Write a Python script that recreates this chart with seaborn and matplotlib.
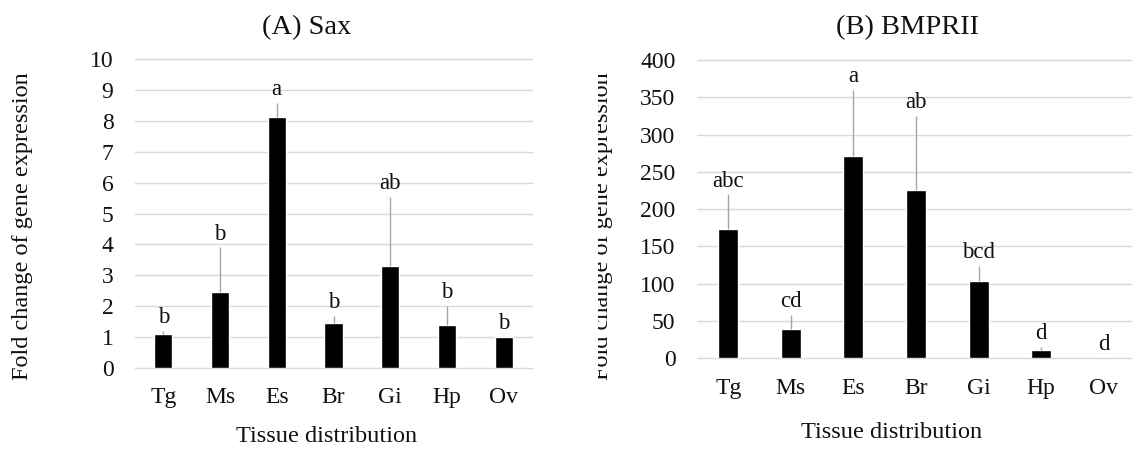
import numpy as np
import pandas as pd
import matplotlib
matplotlib.use("Agg")
import matplotlib.pyplot as plt
import seaborn as sns
from matplotlib.transforms import Bbox, TransformedBbox

# Tissues sampled
tissues = ["Tg", "Ms", "Es", "Br", "Gi", "Hp", "Ov"]

# (A) Sax: mean fold change, SD and significance groups
sax_mean = [1.08, 2.44, 8.14, 1.44, 3.31, 1.39, 1.00]
sax_sd = [0.11, 1.46, 0.45, 0.24, 2.24, 0.61, 0.0]
sax_groups = ["b", "b", "a", "b", "ab", "b", "b"]
sax_ticks = list(range(0, 11, 1))

# (B) BMPRII: mean fold change, SD and significance groups
bmpr_mean = [173, 39, 271, 226, 104, 10.5, 1.0]
bmpr_sd = [47, 19, 89, 99, 20, 4.5, 0.0]
bmpr_groups = ["abc", "cd", "a", "ab", "bcd", "d", "d"]
bmpr_ticks = list(range(0, 401, 50))

sns.set_theme(style="white")
plt.rcParams["font.family"] = ["Liberation Serif", "DejaVu Serif"]
plt.rcParams["text.color"] = "#111111"

W, H = 1132, 450
fig = plt.figure(figsize=(W / 100, H / 100), dpi=100)


def fx(px):
    return px / W


def fy(py):
    return 1 - py / H


def panel(rect, mean, sd, groups, ticks, x_right):
    ax = fig.add_axes(rect)
    df = pd.DataFrame({"tissue": tissues, "value": mean})
    sns.barplot(data=df, x="tissue", y="value", order=tissues, color="black",
                saturation=1, width=0.32, errorbar=None, ax=ax, zorder=2)
    x = np.arange(len(tissues))
    ax.errorbar(x, mean, yerr=[np.zeros(len(sd)), sd], fmt="none",
                ecolor="#a6a6a6", elinewidth=1.0, capsize=0, zorder=3)
    for i, (m, s, g) in enumerate(zip(mean, sd, groups)):
        ax.annotate(g, xy=(i, m + s), xytext=(0, 5.5), textcoords="offset points",
                    ha="center", va="baseline", fontsize=16.5, color="#111111")
    ax.set_ylim(ticks[0], ticks[-1])
    ax.set_yticks(ticks)
    ax.set_xlim(-0.5, x_right)
    ax.set_xlabel("")
    ax.set_ylabel("")
    for sp in ax.spines.values():
        sp.set_visible(False)
    ax.set_axisbelow(True)
    ax.yaxis.grid(True, color="#d9d9d9", linewidth=1.0)
    ax.xaxis.grid(False)
    ax.tick_params(axis="y", length=0, pad=15.5, labelsize=17, labelcolor="#111111")
    ax.tick_params(axis="x", length=0, pad=14, labelsize=17, labelcolor="#111111")
    for gl in ax.get_ygridlines():
        gl.set_clip_on(False)
    return ax


# Panel A: plot area 135..532 px wide, gridlines 59..368 px
axA = panel([fx(135), fy(367.7), (532 - 135) / W, (367.7 - 59.3) / H],
            sax_mean, sax_sd, sax_groups, sax_ticks, 6.5)

# Panel B: plot area starts at 697 px and runs to the right edge
axB = panel([fx(697), fy(358.3), (1135 - 697) / W, (358.3 - 60) / H],
            bmpr_mean, bmpr_sd, bmpr_groups, bmpr_ticks, 6.5)

# Titles
fig.text(fx(307), fy(34.3), "(A) Sax", ha="center", va="baseline", fontsize=20.5)
fig.text(fx(907), fy(34.3), "(B) BMPRII", ha="center", va="baseline", fontsize=20.5)

# Axis titles
fig.text(fx(327), fy(442), "Tissue distribution", ha="center", va="baseline", fontsize=17.5)
fig.text(fx(892), fy(438), "Tissue distribution", ha="center", va="baseline", fontsize=17.5)
fig.text(fx(22.5), fy(226), "Fold change of gene expression", rotation=90,
         ha="center", va="center", fontsize=17.5)
ylab_b = fig.text(fx(602.5), fy(226), "Fold change of gene expression", rotation=90,
                  ha="center", va="center", fontsize=17.5)
ylab_b.set_clip_box(TransformedBbox(Bbox.from_extents(fx(598), 0, 1, 1), fig.transFigure))
ylab_b.set_clip_on(True)

fig.savefig("out.png", dpi=100, facecolor="white")
